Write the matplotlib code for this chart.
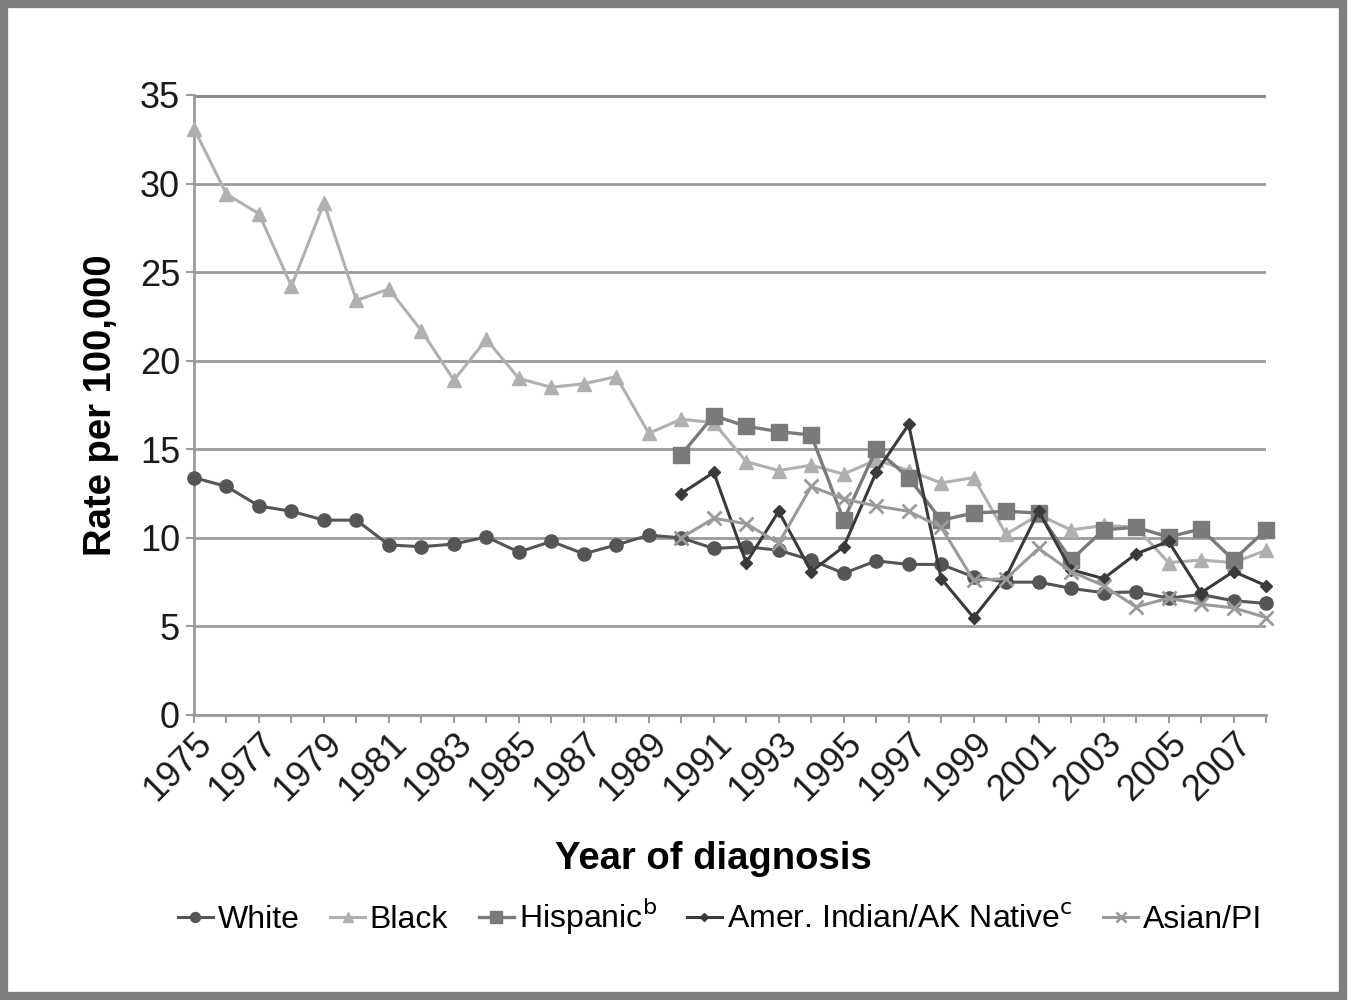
import matplotlib
matplotlib.use("Agg")
import matplotlib.pyplot as plt
from matplotlib.patches import Rectangle
import numpy as np

plt.rcParams["font.family"] = ["Liberation Sans", "DejaVu Sans"]

years = list(range(1975, 2009))
years_late = list(range(1990, 2009))

white = [13.4, 12.9, 11.8, 11.5, 11.0, 11.0, 9.6, 9.5, 9.65, 10.05,
         9.2, 9.8, 9.1, 9.6, 10.15, 10.0, 9.4, 9.5, 9.3, 8.75,
         8.0, 8.7, 8.5, 8.5, 7.8, 7.5, 7.5, 7.15, 6.9, 6.95,
         6.6, 6.8, 6.45, 6.3]
black = [33.1, 29.4, 28.3, 24.2, 28.9, 23.4, 24.05, 21.7, 18.9, 21.2,
         19.0, 18.5, 18.7, 19.1, 15.9, 16.7, 16.5, 14.3, 13.8, 14.1,
         13.6, 14.4, 13.8, 13.1, 13.4, 10.2, 11.3, 10.45, 10.7, 10.6,
         8.6, 8.75, 8.6, 9.3]
hispanic = [14.7, 16.9, 16.3, 16.0, 15.8, 11.0, 15.0, 13.4, 11.0, 11.4,
            11.5, 11.4, 8.75, 10.45, 10.6, 10.05, 10.5, 8.75, 10.45]
amer_indian = [12.5, 13.7, 8.6, 11.5, 8.1, 9.5, 13.7, 16.4, 7.7, 5.5,
               7.8, 11.5, 8.2, 7.7, 9.1, 9.8, 6.9, 8.1, 7.3]
asian_pi = [10.0, 11.1, 10.8, 9.7, 12.9, 12.2, 11.8, 11.5, 10.6, 7.6,
            7.7, 9.4, 8.1, 7.3, 6.1, 6.6, 6.25, 6.05, 5.5]

series = [
    ("White", years, white, "o", "#555555", 9.5, 2.2),
    ("Black", years, black, "^", "#b0b0b0", 10, 2.2),
    ("Hispanic$^{\\mathrm{b}}$", years_late, hispanic, "s", "#7a7a7a", 11, 2.4),
    ("Amer. Indian/AK Native$^{\\mathrm{c}}$", years_late, amer_indian, "D", "#3a3a3a", 6, 2.2),
    ("Asian/PI", years_late, asian_pi, "x", "#9a9a9a", 10, 2.2),
]

fig = plt.figure(figsize=(13.51, 10), dpi=100)
ax = fig.add_axes([194 / 1351, 1 - 715 / 1000, (1266 - 194) / 1351, (715 - 95) / 1000])

ax.set_xlim(1975, 2008)
ax.set_ylim(0, 35)
ax.set_yticks(range(0, 36, 5))
ax.set_xticks(years)
ax.set_xticklabels([str(y) if (y - 1975) % 2 == 0 else "" for y in years],
                   rotation=45, ha="right", va="top", rotation_mode="anchor")
ax.yaxis.grid(True, color="#9a9a9a", linewidth=2)
ax.set_axisbelow(True)
for side in ("top", "right"):
    ax.spines[side].set_visible(False)
for side in ("left", "bottom"):
    ax.spines[side].set_color("#9a9a9a")
    ax.spines[side].set_linewidth(2)
ax.axhline(35, color="#8a8a8a", linewidth=3.5, zorder=1)
ax.tick_params(axis="both", colors="#9a9a9a", labelcolor="#1a1a1a",
               width=1.5, length=6, labelsize=26)
ax.tick_params(axis="x", pad=2)
ax.tick_params(axis="y", pad=4)

for label, xs, ys, marker, color, ms, lw in series:
    mew = 2 if marker == "x" else 1
    ax.plot(xs, ys, marker=marker, color=color, markersize=ms, linewidth=lw,
            markeredgewidth=mew, label=label, clip_on=False, zorder=3)

ax.set_ylabel("Rate per 100,000", fontsize=27.5, fontweight="bold")
ax.yaxis.set_label_coords(-0.07, 0.5)
ax.set_xlabel("Year of diagnosis", fontsize=27.5, fontweight="bold")
ax.xaxis.set_label_coords(0.485, -0.203)

fig.legend(loc="center", bbox_to_anchor=(720 / 1351, 1 - 917 / 1000), ncol=5,
           frameon=False, fontsize=23, handlelength=1.1, handletextpad=0.15,
           columnspacing=0.95, markerscale=0.75)

fig.add_artist(Rectangle((4 / 1351, 4 / 1000), 1339 / 1351, 992 / 1000,
                         transform=fig.transFigure, fill=False,
                         edgecolor="#7f7f7f", linewidth=6))

fig.savefig("out.png", dpi=100)
